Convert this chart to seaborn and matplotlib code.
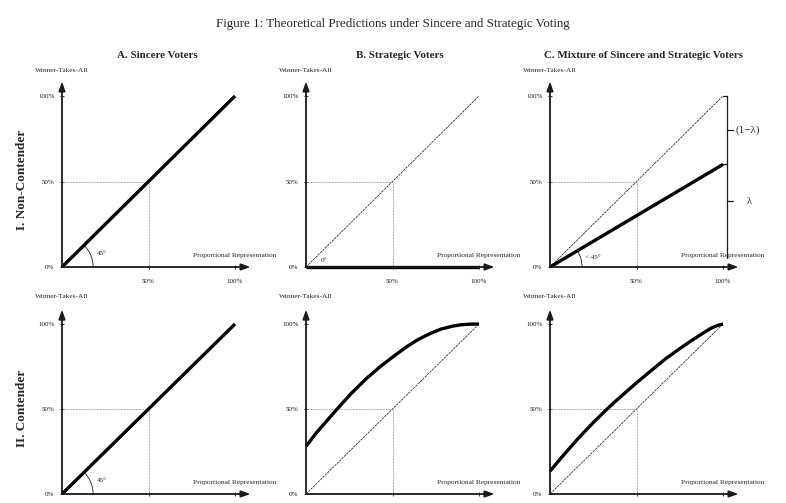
import numpy as np
import pandas as pd
import matplotlib
matplotlib.use("Agg")
import matplotlib.pyplot as plt
import seaborn as sns
from matplotlib.patches import Arc

sns.set_theme(style="white")
plt.rcParams['font.family'] = ['Liberation Serif', 'DejaVu Serif']

# ---------------- data ----------------
title = "Figure 1: Theoretical Predictions under Sincere and Strategic Voting"
col_titles = ["A. Sincere Voters", "B. Strategic Voters",
              "C. Mixture of Sincere and Strategic Voters"]
row_titles = ["I. Non-Contender", "II. Contender"]
x_label = "Proportional Representation"
y_label = "Winner-Takes-All"
xtick_vals = [0.5, 1.0]
xtick_labels = ["50%", "100%"]
ytick_vals = [0.0, 0.5, 1.0]
ytick_labels = ["0%", "50%", "100%"]

diag_x = [0.0, 1.0]
diag_y = [0.0, 1.0]

sincere_x = [0.0, 1.0]
sincere_y = [0.0, 1.0]

strategic_nc_x = [0.0, 1.0]
strategic_nc_y = [0.0, 0.0]

mixture_nc_x = [0.0, 1.0]
mixture_nc_y = [0.0, 0.6]

strategic_c_x = [0.0, 0.06, 0.12, 0.18, 0.26, 0.35, 0.43, 0.5, 0.58, 0.65,
                 0.72, 0.78, 0.85, 0.9, 0.95, 1.0]
strategic_c_y = [0.28, 0.36, 0.43, 0.50, 0.59, 0.68, 0.75, 0.805, 0.865, 0.91,
                 0.945, 0.97, 0.988, 0.996, 0.999, 1.0]

mixture_c_x = [0.0, 0.05, 0.1, 0.15, 0.2, 0.25, 0.33, 0.4, 0.5, 0.58, 0.67,
               0.75, 0.81, 0.87, 0.93, 0.97, 1.0]
mixture_c_y = [0.134, 0.195, 0.254, 0.312, 0.367, 0.42, 0.50, 0.565, 0.654,
               0.722, 0.797, 0.855, 0.897, 0.937, 0.975, 0.992, 1.0]

curves = [[(sincere_x, sincere_y), (strategic_nc_x, strategic_nc_y), (mixture_nc_x, mixture_nc_y)],
          [(sincere_x, sincere_y), (strategic_c_x, strategic_c_y), (mixture_c_x, mixture_c_y)]]

angle_labels = {(0, 0): "45°", (1, 0): "45°", (0, 1): "0°", (0, 2): "< 45°"}
lam_labels = ["(1\u2212\u03bb)", "\u03bb"]

# ---------------- layout ----------------
W, H = 786, 503
fig = plt.figure(figsize=(W / 100, H / 100), dpi=100)
fig.patch.set_facecolor("white")

col_x0 = [62, 306, 550]
row_y0 = [267, 494]
unit_x = 173
unit_y = [171, 170]
XMAX, YMAX = 1.1, 1.1

fig.text(0.5, 1 - 24 / H, title, ha="center", va="center", fontsize=9.4)
col_cx = [157, 400, 643]
for c in range(3):
    fig.text(col_cx[c] / W, 1 - 56 / H, col_titles[c], ha="center", va="center",
             fontsize=7.9, fontweight="bold")
row_cy = [180, 408]
for r in range(2):
    fig.text(22 / W, 1 - row_cy[r] / H, row_titles[r], ha="center", va="center",
             rotation=90, fontsize=9.5, fontweight="bold")

guide_col = "#8c8c8c"
for r in range(2):
    for c in range(3):
        ax = fig.add_axes([col_x0[c] / W, (H - row_y0[r]) / H,
                           XMAX * unit_x / W, YMAX * unit_y[r] / H])
        ax.set_xlim(0, XMAX)
        ax.set_ylim(0, YMAX)
        ax.set_facecolor("none")
        for s in ax.spines.values():
            s.set_visible(False)
        # bottom-row x tick labels fall below the page edge in the reference
        ax.set_xticks(xtick_vals, xtick_labels if r == 0 else ["", ""])
        ax.set_yticks(ytick_vals, ytick_labels)
        ax.tick_params(axis="both", which="both", length=3, width=0.6,
                       direction="inout", labelsize=5, colors="k",
                       left=True, bottom=True)
        ax.tick_params(axis="x", pad=7)
        ax.tick_params(axis="y", pad=4)
        ax.grid(False)

        # axes with arrows
        arr = dict(arrowstyle="-|>,head_length=0.45,head_width=0.16", color="k",
                   lw=1.3, shrinkA=0, shrinkB=0)
        ax.annotate("", xy=(1.09, 0), xytext=(0, 0), arrowprops=arr,
                    annotation_clip=False)
        ax.annotate("", xy=(0, 1.085), xytext=(0, 0), arrowprops=arr,
                    annotation_clip=False)

        # 50% guide lines
        ax.plot([0, 0.5], [0.5, 0.5], color=guide_col, lw=0.6, ls=(0, (1, 0.8)))
        ax.plot([0.5, 0.5], [0, 0.5], color=guide_col, lw=0.6, ls=(0, (1, 0.8)))

        # 45 degree reference for strategic/mixture panels
        if c > 0:
            ax.plot(diag_x, diag_y, color="#333333", lw=0.6, ls=(0, (3, 1)))

        # prediction curve
        cx, cy = curves[r][c]
        df = pd.DataFrame({"PR": cx, "WTA": cy})
        sns.lineplot(data=df, x="PR", y="WTA", ax=ax, color="black", lw=2.4,
                     sort=False, estimator=None, solid_capstyle="butt",
                     solid_joinstyle="round", clip_on=False)
        ax.set_xlabel("")
        ax.set_ylabel("")

        ax.text(0.0, 1.15 if r == 0 else 1.16, y_label, ha="center", va="center",
                fontsize=5.3)
        ax.text(0.757, 0.065, x_label, ha="left", va="center", fontsize=5.3)

        # angle annotations
        if (r, c) in angle_labels:
            if c == 0:
                ax.add_patch(Arc((0, 0), 0.36, 0.36, theta1=0, theta2=45,
                                 color="k", lw=0.6))
                ax.text(0.2, 0.08, angle_labels[(r, c)], fontsize=5, ha="left",
                        va="center")
            elif c == 1:
                ax.text(0.085, 0.04, angle_labels[(r, c)], fontsize=5, ha="left",
                        va="center")
            else:
                ax.add_patch(Arc((0, 0), 0.37, 0.37, theta1=0,
                                 theta2=np.degrees(np.arctan(mixture_nc_y[-1])),
                                 color="k", lw=0.6))
                ax.text(0.2, 0.055, angle_labels[(r, c)], fontsize=5, ha="left",
                        va="center")

        # lambda bracket
        if (r, c) == (0, 2):
            bx = 1.025
            top = diag_y[-1]
            mid = mixture_nc_y[-1]
            kw = dict(color="k", lw=0.9, clip_on=False)
            ax.plot([bx, bx], [0.05, top], **kw)
            ax.plot([1.0, bx], [top, top], **kw)
            ax.plot([1.0, bx], [mid, mid], **kw)
            ax.plot([bx, bx + 0.03], [0.8, 0.8], **kw)
            ax.plot([bx, bx + 0.03], [0.385, 0.385], **kw)
            ax.text(1.072, 0.8, lam_labels[0], fontsize=8, ha="left", va="center")
            ax.text(1.14, 0.385, lam_labels[1], fontsize=7.5, ha="left", va="center")

fig.savefig("out.png", dpi=100, facecolor="white")
